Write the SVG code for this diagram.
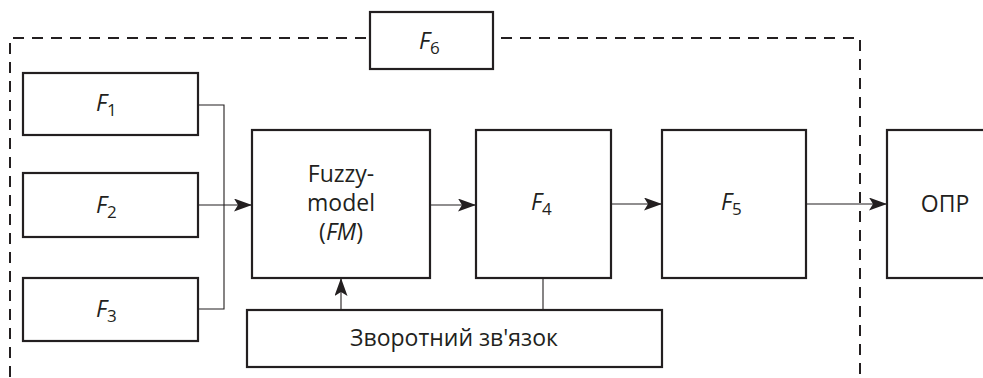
<svg xmlns="http://www.w3.org/2000/svg" width="983" height="378" viewBox="0 0 983 378">
<style>
.box{fill:#fff;stroke:#231f20;stroke-width:2.2}
.ln{fill:none;stroke:#231f20;stroke-width:1.1}
.dash{fill:none;stroke:#231f20;stroke-width:2;stroke-dasharray:11 8}
text{font-family:"Open Sans","Noto Sans",sans-serif;fill:#231f20;font-size:23px}
.i{font-style:italic}
.sub{font-size:17px}
</style>
<defs>
<marker id="ah" markerWidth="18" markerHeight="13" refX="18" refY="6.5" orient="auto" markerUnits="userSpaceOnUse">
<path d="M0,0 L18,6.5 L0,13 L4,6.5 Z" fill="#231f20"/>
</marker>
</defs>
<g id="frame">
<path class="dash" d="M366,38 H10 V378"/>
<path class="dash" d="M501,38 H860 V378"/>
</g>
<g id="connectors">
<path class="ln" d="M198,105 H224 V309 H198"/>
<path class="ln" d="M198,205 H252" marker-end="url(#ah)"/>
<path class="ln" d="M430,205 H476" marker-end="url(#ah)"/>
<path class="ln" d="M611,204 H662" marker-end="url(#ah)"/>
<path class="ln" d="M806,204 H887" marker-end="url(#ah)"/>
<path class="ln" d="M341,310 V278" marker-end="url(#ah)"/>
<path class="ln" d="M543,278 V310"/>
</g>
<g id="F6">
<rect class="box" x="370" y="12" width="123" height="57"/>
<text x="419" y="49" class="i">F<tspan class="sub" font-style="normal" dy="5">6</tspan></text>
</g>
<g id="F1">
<rect class="box" x="23" y="73" width="175" height="62"/>
<text x="96" y="111" class="i">F<tspan class="sub" font-style="normal" dy="5">1</tspan></text>
</g>
<g id="F2">
<rect class="box" x="23" y="173" width="175" height="64"/>
<text x="96" y="213" class="i">F<tspan class="sub" font-style="normal" dy="5">2</tspan></text>
</g>
<g id="F3">
<rect class="box" x="23" y="278" width="175" height="63"/>
<text x="96" y="317" class="i">F<tspan class="sub" font-style="normal" dy="5">3</tspan></text>
</g>
<g id="FM">
<rect class="box" x="252" y="130" width="178" height="148"/>
<text x="341" y="182" text-anchor="middle">Fuzzy-</text>
<text x="341" y="211" text-anchor="middle">model</text>
<text x="341" y="240" text-anchor="middle">(<tspan class="i">FM</tspan>)</text>
</g>
<g id="F4">
<rect class="box" x="476" y="130" width="135" height="148"/>
<text x="531" y="210" class="i">F<tspan class="sub" font-style="normal" dy="5">4</tspan></text>
</g>
<g id="F5">
<rect class="box" x="662" y="130" width="144" height="148"/>
<text x="721" y="210" class="i">F<tspan class="sub" font-style="normal" dy="5">5</tspan></text>
</g>
<g id="OPR">
<rect class="box" x="887" y="130" width="100" height="148"/>
<text x="945" y="212" text-anchor="middle">ОПР</text>
</g>
<g id="feedback">
<rect class="box" x="247" y="310" width="415" height="57"/>
<text x="454" y="346" text-anchor="middle" font-size="22">Зворотний зв'язок</text>
</g>
</svg>
